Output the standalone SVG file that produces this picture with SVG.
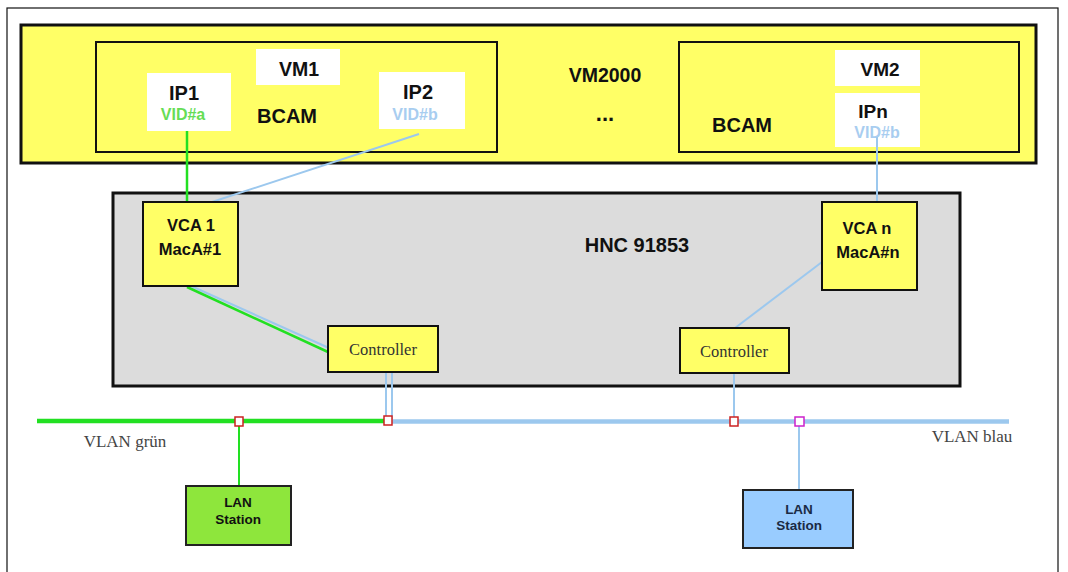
<svg xmlns="http://www.w3.org/2000/svg" width="1068" height="572" viewBox="0 0 1068 572">
<style>
.b{font-family:"Liberation Sans",Arial,sans-serif;font-weight:bold;text-anchor:middle;fill:#111}
.s{font-family:"Liberation Serif","Times New Roman",serif;text-anchor:middle;fill:#333}
.wl{fill:#fff;stroke:none}
.yb{fill:#ffff66;stroke:#111;stroke-width:2}
.g{stroke:#22e022;fill:none}
.bl{stroke:#9cc8ee;fill:none}
.port{fill:#fff;stroke:#cc2222;stroke-width:1.5}
</style>
<rect x="0" y="0" width="1068" height="572" fill="#fff"/>
<rect x="7" y="8" width="1051" height="580" fill="none" stroke="#111" stroke-width="1.2"/>
<g id="host">
<rect x="21" y="25" width="1015" height="138" fill="#ffff66" stroke="#111" stroke-width="3"/>
<text class="b" x="605" y="82" font-size="19.5">VM2000</text>
<text class="b" x="605" y="121" font-size="22">...</text>
</g>
<g id="vm1">
<rect x="96" y="42" width="401" height="110" fill="#ffff66" stroke="#111" stroke-width="2"/>
<rect class="wl" x="256" y="49" width="84" height="36"/>
<text class="b" x="299" y="76" font-size="19.5">VM1</text>
<text class="b" x="287" y="123" font-size="20">BCAM</text>
</g>
<g id="ip1">
<rect class="wl" x="147" y="73" width="84" height="58"/>
<text class="b" x="184" y="100" font-size="20">IP1</text>
<text class="b" x="183" y="120" font-size="16" style="fill:#66dd55">VID#a</text>
</g>
<g id="ip2">
<rect class="wl" x="379" y="72" width="86" height="57"/>
<text class="b" x="418" y="99" font-size="20">IP2</text>
<text class="b" x="415" y="120" font-size="16" style="fill:#a8cdf0">VID#b</text>
</g>
<g id="vm2">
<rect x="679" y="42" width="340" height="110" fill="#ffff66" stroke="#111" stroke-width="2"/>
<rect class="wl" x="835" y="50" width="85" height="36"/>
<text class="b" x="880" y="76" font-size="19">VM2</text>
<text class="b" x="742" y="132" font-size="20">BCAM</text>
</g>
<g id="ipn">
<rect class="wl" x="835" y="93" width="85" height="54"/>
<text class="b" x="873" y="118" font-size="19">IPn</text>
<text class="b" x="877" y="138" font-size="16" style="fill:#a8cdf0">VID#b</text>
</g>
<g id="hnc">
<rect x="113" y="193" width="847" height="193" fill="#dcdcdc" stroke="#111" stroke-width="3"/>
<text class="b" x="637" y="252" font-size="20">HNC 91853</text>
</g>
<g id="connectors">
<line class="g" x1="187" y1="131" x2="187" y2="203" stroke-width="2.5"/>
<line class="bl" x1="419" y1="134" x2="209" y2="203" stroke-width="2"/>
<line class="bl" x1="191" y1="286" x2="329" y2="348" stroke-width="2"/>
<line class="g" x1="187" y1="287" x2="328" y2="352" stroke-width="2.5"/>
<line class="bl" x1="877" y1="137" x2="877" y2="203" stroke-width="2"/>
<line class="bl" x1="822" y1="262" x2="735" y2="328" stroke-width="2"/>
<line class="bl" x1="386" y1="372" x2="386" y2="419" stroke-width="2"/>
<line class="bl" x1="392" y1="372" x2="392" y2="419" stroke-width="2"/>
<line class="bl" x1="734" y1="373" x2="734" y2="420" stroke-width="2"/>
<line class="bl" x1="388" y1="421.5" x2="1009" y2="421.5" stroke-width="4.5"/>
<line class="g" x1="37" y1="421" x2="388" y2="421" stroke-width="4.5"/>
<line class="g" x1="239" y1="422" x2="239" y2="486" stroke-width="2"/>
<line class="bl" x1="799" y1="422" x2="799" y2="490" stroke-width="2"/>
<rect class="port" x="235" y="417" width="8" height="9"/>
<rect class="port" x="384" y="416" width="8" height="9"/>
<rect class="port" x="730" y="417" width="8" height="9"/>
<rect x="795" y="417" width="9" height="9" fill="#fff" stroke="#cc22cc" stroke-width="1.5"/>
</g>
<g id="vca1">
<rect class="yb" x="143" y="202" width="95" height="84"/>
<text class="b" x="191" y="231" font-size="16.5">VCA 1</text>
<text class="b" x="190" y="255" font-size="16.5">MacA#1</text>
</g>
<g id="vcan">
<rect class="yb" x="822" y="202" width="95" height="88"/>
<text class="b" x="867" y="234" font-size="16.5">VCA n</text>
<text class="b" x="868" y="258" font-size="16.5">MacA#n</text>
</g>
<g id="controller1">
<rect class="yb" x="328" y="326" width="110" height="46"/>
<text class="s" x="383" y="355" font-size="16.5">Controller</text>
</g>
<g id="controller2">
<rect class="yb" x="680" y="328" width="109" height="45"/>
<text class="s" x="734" y="357" font-size="16.5">Controller</text>
</g>
<g id="lan1">
<rect x="186" y="486" width="105" height="59" fill="#8ee63c" stroke="#222" stroke-width="2"/>
<text class="b" x="238" y="507" font-size="13.5">LAN</text>
<text class="b" x="238" y="524" font-size="13.5">Station</text>
</g>
<g id="lan2">
<rect x="743" y="490" width="110" height="58" fill="#99ccff" stroke="#222" stroke-width="2"/>
<text class="b" x="799" y="514" font-size="13.5" style="fill:#1a2a44">LAN</text>
<text class="b" x="799" y="530" font-size="13.5" style="fill:#1a2a44">Station</text>
</g>
<g id="labels">
<text class="s" x="125" y="447" font-size="17" style="fill:#444">VLAN grün</text>
<text class="s" x="972" y="442" font-size="17" style="fill:#444">VLAN blau</text>
</g>
</svg>
